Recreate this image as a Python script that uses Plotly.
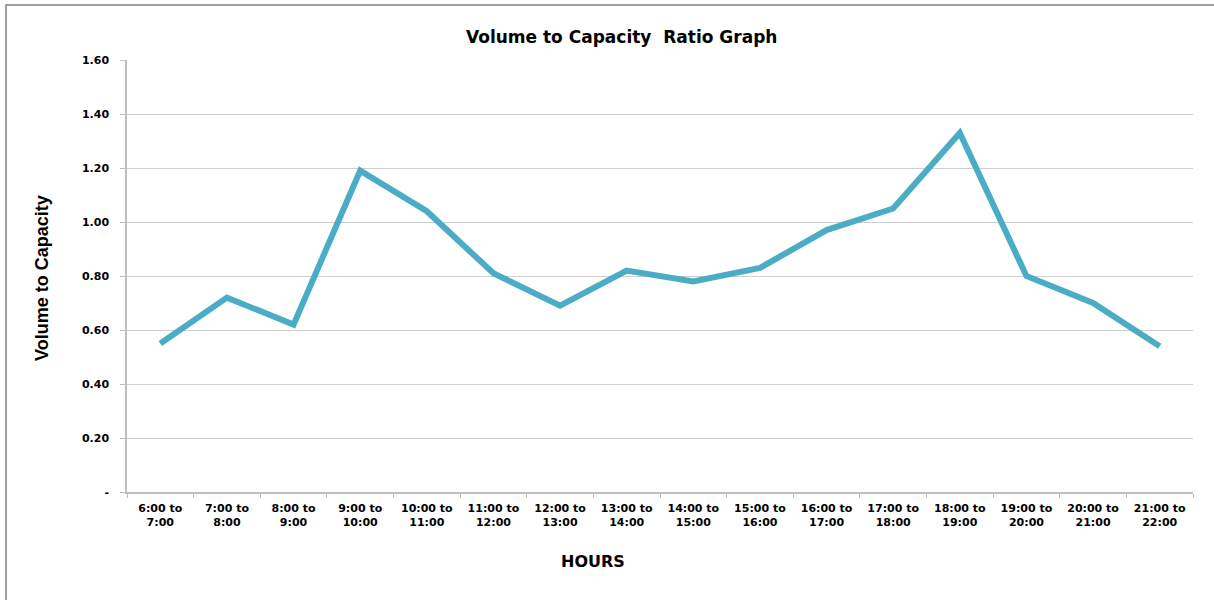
import plotly.graph_objects as go

categories = ["6:00 to<br>7:00", "7:00 to<br>8:00", "8:00 to<br>9:00", "9:00 to<br>10:00",
              "10:00 to<br>11:00", "11:00 to<br>12:00", "12:00 to<br>13:00", "13:00 to<br>14:00",
              "14:00 to<br>15:00", "15:00 to<br>16:00", "16:00 to<br>17:00", "17:00 to<br>18:00",
              "18:00 to<br>19:00", "19:00 to<br>20:00", "20:00 to<br>21:00", "21:00 to<br>22:00"]
vc_ratio = [0.55, 0.72, 0.62, 1.19, 1.04, 0.81, 0.69, 0.82, 0.78, 0.83, 0.97, 1.05, 1.33, 0.80, 0.70, 0.54]
y_tickvals = [0, 0.2, 0.4, 0.6, 0.8, 1.0, 1.2, 1.4, 1.6]
y_ticktext = ["-", "0.20", "0.40", "0.60", "0.80", "1.00", "1.20", "1.40", "1.60"]

W, H = 1214, 600
L, R, T, B = 127, 21, 60, 108
pw, ph = W - L - R, H - T - B

def px_x(x):
    return (x - L) / pw

def px_y(y):
    return (H - B - y) / ph

font_main = "DejaVu Sans"

fig = go.Figure()
fig.add_trace(go.Scatter(
    x=categories, y=vc_ratio, mode="lines",
    line=dict(color="#4BACC6", width=6),
    hoverinfo="x+y", showlegend=False,
))

fig.update_layout(
    width=W, height=H,
    margin=dict(l=L, r=R, t=T, b=B),
    paper_bgcolor="white", plot_bgcolor="white",
    font=dict(family=font_main, color="black"),
    xaxis=dict(
        type="category", tickson="boundaries", ticks="outside", ticklen=4,
        tickcolor="#bfbfbf", showline=True, linecolor="#bfbfbf", linewidth=1.5,
        showgrid=False, tickfont=dict(size=11, family=font_main, weight="bold"),
        ticklabelstandoff=5, range=[-0.5, 15.5], fixedrange=True,
    ),
    yaxis=dict(
        range=[0, 1.6], tickvals=y_tickvals, ticktext=y_ticktext,
        ticks="outside", ticklen=5, tickcolor="#bfbfbf",
        showline=True, linecolor="#bfbfbf", linewidth=1.5,
        showgrid=True, gridcolor="#cfcfcf", gridwidth=1,
        zeroline=False, tickfont=dict(size=11, family=font_main, weight="bold"),
        ticklabelstandoff=9, fixedrange=True,
    ),
    shapes=[
        dict(type="rect", xref="paper", yref="paper",
             x0=px_x(6), x1=px_x(1220), y0=px_y(606), y1=px_y(5),
             line=dict(color="#808080", width=1.5), fillcolor="rgba(0,0,0,0)", layer="below"),
    ],
    annotations=[
        dict(text="Volume to Capacity&nbsp;&nbsp;Ratio Graph", xref="paper", yref="paper",
             x=px_x(621), y=px_y(37), showarrow=False,
             font=dict(size=17, family=font_main, weight="bold"), xanchor="center", yanchor="middle"),
        dict(text="HOURS", xref="paper", yref="paper",
             x=px_x(593), y=px_y(561), showarrow=False,
             font=dict(size=16, family=font_main, weight="bold"), xanchor="center", yanchor="middle"),
        dict(text="Volume to Capacity", xref="paper", yref="paper",
             x=px_x(42), y=px_y(278), showarrow=False, textangle=-90,
             font=dict(size=18, family="Liberation Sans", weight="bold"),
             xanchor="center", yanchor="middle"),
    ],
)

fig.write_html("out.html", config={"displayModeBar": False},
               post_script="document.body.style.margin='0';document.body.style.overflow='hidden';")
